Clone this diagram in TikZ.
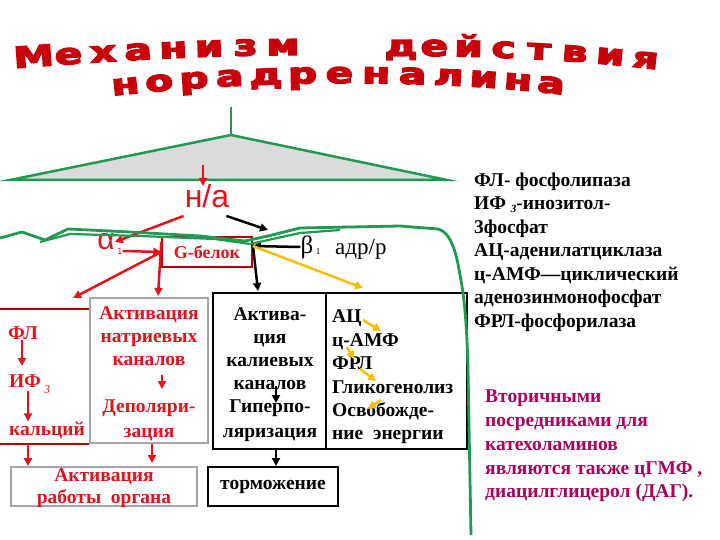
\documentclass[tikz,border=0pt]{standalone}
\usepackage{graphicx}
\usepackage{fontspec}
\setmainfont{Liberation Serif}
\newfontfamily\sansf{Liberation Sans}
\newfontfamily\titlefont{DejaVu Sans Bold}
\usetikzlibrary{arrows.meta}
\definecolor{tred}{RGB}{225,20,30}
\definecolor{dred}{RGB}{185,0,0}
\definecolor{titlered}{RGB}{200,0,10}
\definecolor{mgreen}{RGB}{30,155,80}
\definecolor{gold}{RGB}{250,190,0}
\definecolor{plum}{RGB}{170,0,90}
\definecolor{boxgray}{RGB}{165,165,165}
\newcommand\wideletter[1]{\scalebox{1.4}[1]{#1}}
\newcommand\heavyletter[1]{\special{pdf:literal direct 2 Tr 1.3 w}#1\special{pdf:literal direct 0 Tr}}
\begin{document}
\begin{tikzpicture}[x=1pt,y=-1pt,
  every node/.style={inner sep=0pt},
  tx/.style={font=\bfseries\fontsize{19.5}{23}\selectfont, align=center},
  rtx/.style={tx, text=tred},
  btx/.style={tx, text=black},
  tip/.style={-{Triangle[length=8pt,width=8pt]}},
  rarr/.style={draw=tred, line width=2.5pt, tip},
  barr/.style={draw=black, line width=2.5pt, tip},
  yarr/.style={draw=gold, line width=2.5pt, tip},
  ttlch/.style={font=\titlefont\fontsize{29}{29}\selectfont, text=titlered, sloped, anchor=base}
]
\useasboundingbox (0,0) rectangle (720,540);
\fill[white] (0,0) rectangle (720,540);

% title, letter by letter along arcs
\foreach \ch [count=\i] in {М,е,х,а,н,и,з,м}{
  \pgfmathsetmacro\pp{(\i-0.5)/8}
  \path (17,68) .. controls (110,61) and (200,55) .. (302,55) node[ttlch, pos=\pp] (t1\i) {\heavyletter{\wideletter{\ch}}};
}
\foreach \ch [count=\i] in {д,е,й,с,т,в,и,я}{
  \pgfmathsetmacro\pp{(\i-0.5)/8}
  \path (385,56) .. controls (470,55) and (570,59) .. (662,70) node[ttlch, pos=\pp] (t2\i) {\heavyletter{\wideletter{\ch}}};
}
\foreach \ch [count=\i] in {н,о,р,а,д,р,е,н,а,л,и,н,а}{
  \pgfmathsetmacro\pp{(\i-0.5)/13}
  \path (110,96) .. controls (250,80) and (430,78) .. (566,95) node[ttlch, pos=\pp] (t3\i) {\heavyletter{\wideletter{\ch}}};
}

% triangle
\coordinate (stem) at (231,107);
\coordinate (apex) at (231,135);
\coordinate (bl) at (10,180);
\coordinate (br) at (447,180);
\filldraw[fill=gray!28, draw=mgreen, line width=2.5pt] (bl) -- (apex) -- (br) -- cycle;
\draw[mgreen, line width=2.5pt] (stem) -- (apex);

% n/a
\node[font=\sansf\fontsize{32}{32}\selectfont, text=tred] (na) at (207,196) {н/а};
\coordinate (naTop) at (203,165);
\draw[rarr] (naTop) -- (203,186);

% alpha
\node[font=\sansf\fontsize{30}{30}\selectfont, text=tred] (alpha) at (106,242) {α};
\node[font=\sansf\fontsize{9}{9}\selectfont, text=tred] (alpha1) at (120,251) {1};

% G-protein box
\node[draw=dred, line width=1.5pt, minimum width=90pt, minimum height=30pt,
      font=\bfseries\fontsize{18}{18}\selectfont, text=tred] (gb) at (207,252) {G-белок};

% beta, adr/r
\node[font=\fontsize{25}{25}\selectfont] (beta) at (307,247) {β};
\node[font=\fontsize{9}{9}\selectfont] (beta1) at (318,252) {1};
\node[font=\fontsize{23}{23}\selectfont, anchor=west] (adr) at (335,249) {адр/р};

% middle black box
\node[draw, line width=2pt, minimum width=254pt, minimum height=156pt] (mid) at (340,371) {};
\draw[line width=2pt] (326,293) -- (326,449);
\node[btx] (kal) at (270,348.5) {Актива-\\ция\\калиевых\\каналов};
\node[btx, font=\bfseries\fontsize{19.5}{25}\selectfont] (hyp) at (270,421) {Гиперпо-\\ляризация};
\node[btx, align=left, anchor=west, font=\bfseries\fontsize{19.5}{23.4}\selectfont] (ac) at (332,377) {АЦ\\ц-АМФ\\ФРЛ\\Гликогенолиз\\Освобожде-\\ние~~энергии};
\draw[barr, line width=2pt] (276,386) -- (276,403);

% tormozhenie
\node[btx, draw, line width=2pt, minimum width=130pt, minimum height=39pt] (torm) at (273,486.5) {торможение};
\draw[barr] ([xshift=3pt]torm.north |- mid.south) -- ([xshift=3pt]torm.north);

% gray box sodium
\node[draw=boxgray, line width=2pt, minimum width=118pt, minimum height=145pt] (gray) at (149,370.5) {};
\node[rtx] (nat) at (149,336) {Активация\\натриевых\\каналов};
\node[rtx, font=\bfseries\fontsize{19.5}{25}\selectfont] (dep) at (149,420) {Деполяри-\\зация};
\draw[rarr, line width=2pt] (162,375) -- (162,389);

% organ box
\node[draw=boxgray, line width=2pt, minimum width=186pt, minimum height=39pt] (org) at (104,486.5) {};
\node[rtx, font=\bfseries\fontsize{19.5}{22}\selectfont] (orgt) at (104,488) {Активация\\работы~~органа};

% left region
\draw[dred, line width=2.5pt] (0,309) -- (gray.west |- 0,309);
\draw[dred, line width=2.5pt] (0,444) -- (gray.west |- 0,444);
\node[rtx] (fl) at (23,333) {ФЛ};
\node[rtx] (if) at (25,381) {ИФ};
\node[font=\itshape\fontsize{12}{12}\selectfont, text=tred] (if3) at (47,390) {3};
\node[rtx] (ca) at (47,430) {кальций};
\draw[rarr] (fl.south -| 22,0) -- (22,366);
\draw[rarr] (28,391) -- ([xshift=-19pt]ca.north);
\draw[rarr] (28,445) -- (org.north -| 28,0);
\draw[rarr] (152,444) -- (152,463);

% arrows around membrane
\draw[rarr] (na.south west) ++(-1,8) -- (alpha.east);
\draw[rarr] (alpha1.east) -- (gb.west);
\draw[rarr] (gb.west) -- (73,298);
\draw[rarr] ([yshift=10pt]gb.west) -- (158,296);
\draw[barr] (na.south east) ++(-3,8) -- (268,230);
\draw[barr] (beta.west) -- ([yshift=6pt]gb.east);
\draw[barr] ([yshift=8pt]gb.east) -- (258,291);
\draw[yarr] ([yshift=6pt]gb.east) -- (363,288);

% yellow arrows in right cell
\draw[yarr] (363,320) -- (381,331);
\draw[yarr] (347,347) -- (354,359);
\draw[yarr] (360,369) -- (376,381);
\draw[yarr] (381,400) -- (368,409);

% membrane
\draw[mgreen, line width=2.8pt, line join=round]
  (0,238) -- (22,232) -- (45,240) -- (68,229) -- (130,232) -- (200,236) -- (245,241) -- (268,236)
  -- (300,228) -- (400,226) -- (438,229)
  .. controls (450,232) and (456,250) .. (460,275)
  .. controls (465,300) and (467,330) .. (468,370) -- (471,535);
\draw[mgreen, line width=2.2pt, line join=round]
  (40,242) -- (70,234) -- (140,236) -- (215,239) -- (250,244) -- (300,233) -- (340,230);

% legends
\node[btx, align=left, anchor=west, font=\bfseries\fontsize{19.5}{23.5}\selectfont] (leg) at (474,252)
 {ФЛ- фосфолипаза\\ИФ {\fontsize{11}{11}\selectfont\raisebox{-3pt}{\textit{3}}}-инозитол-\\3фосфат\\АЦ-аденилатциклаза\\ц-АМФ—циклический\\аденозинмонофосфат\\ФРЛ-фосфорилаза};
\node[tx, align=left, anchor=west, text=plum, font=\bfseries\fontsize{19.5}{23.75}\selectfont] (sec) at (485,446)
 {Вторичными\\посредниками для\\катехоламинов\\являются также цГМФ ,\\диацилглицерол (ДАГ).};
\end{tikzpicture}
\end{document}
